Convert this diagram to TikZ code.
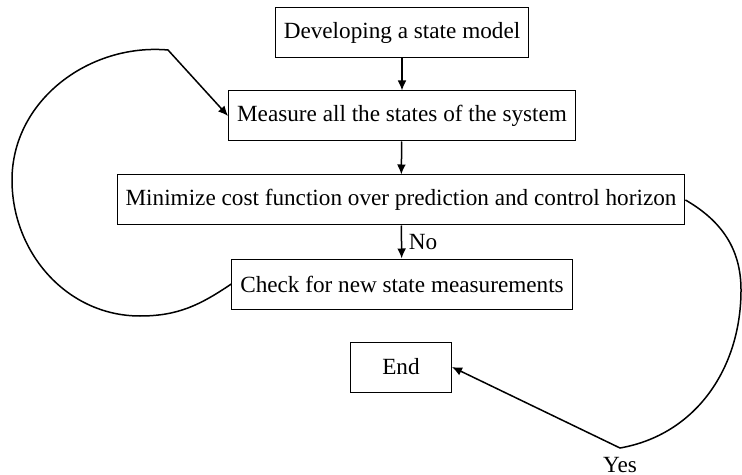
\documentclass[tikz,border=0pt]{standalone}
\usepackage{fontspec}
\setmainfont{Liberation Serif}
\usetikzlibrary{arrows.meta}
\begin{document}
\begin{tikzpicture}[x=0.5pt,y=0.5pt,
  box/.style={draw, line width=0.5pt, inner xsep=4.25pt, minimum height=25pt, font=\fontsize{11.6}{14}\selectfont},
  conn/.style={line width=0.75pt},
  arr/.style={conn,-{Latex[length=5pt,width=4.4pt]}},
  lbl/.style={font=\fontsize{11.6}{14}\selectfont}]
\useasboundingbox (0,0) rectangle (742,-475);
\node[box] (dev) at (402,-33) {Developing a state model};
\node[box] (meas) at (402,-116) {Measure all the states of the system};
\node[box] (min) at (401,-200) {Minimize cost function over prediction and control horizon};
\node[box] (check) at (402,-284) {Check for new state measurements};
\node[box, minimum width=50.5pt] (end) at (401,-367) {End};
\coordinate (k1) at (168,-50);
\coordinate (l1) at (12,-180);
\coordinate (b1) at (140,-316);
\coordinate (r1) at (741,-290);
\coordinate (k2) at (620,-448);
\draw[arr] (dev) -- (meas);
\draw[arr] (meas) -- (min);
\draw[arr] (min) -- node[lbl, right] {No} (check);
\draw[arr] (check.west) to[out=214, in=0] (b1) to[out=180, in=270] (l1) to[out=90, in=175] (k1) -- (meas.west);
\draw[arr] (min.east) to[out=-30, in=90] (r1) to[out=270, in=10] (k2) -- (end.east);
\node[lbl] (yes) at (620,-465) {Yes};
\end{tikzpicture}
\end{document}
